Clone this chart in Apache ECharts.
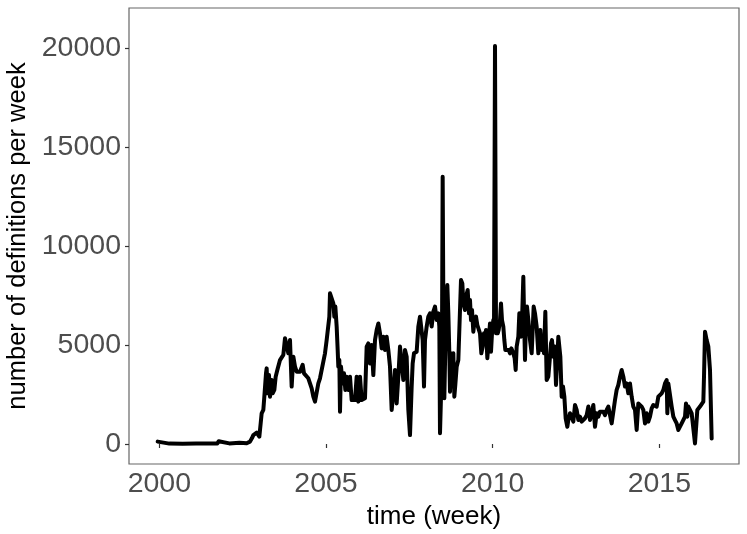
<!DOCTYPE html>
<html>
<head>
<meta charset="utf-8">
<script src="https://cdn.jsdelivr.net/npm/echarts@6/dist/echarts.min.js"></script>
<style>
html,body{margin:0;padding:0;background:#fff;}
#chart{width:747px;height:534px;}
</style>
</head>
<body>
<div id="chart"></div>
<script>
// time in decimal years (weekly series)
const years = [
1999.95,2000.00,2000.30,2000.70,2001.10,2001.50,2001.74,2001.78,2001.82,2002.10,
2002.40,2002.46,2002.52,2002.62,2002.72,2002.78,2002.82,2002.92,2003.00,2003.04,
2003.07,2003.12,2003.15,2003.20,2003.22,2003.25,2003.29,2003.32,2003.37,2003.40,
2003.45,2003.49,2003.54,2003.62,2003.72,2003.77,2003.82,2003.87,2003.92,2003.97,
2004.02,2004.07,2004.12,2004.17,2004.22,2004.30,2004.34,2004.40,2004.47,2004.52,
2004.57,2004.62,2004.67,2004.72,2004.77,2004.82,2004.87,2004.92,2004.97,2005.02,
2005.07,2005.10,2005.12,2005.17,2005.22,2005.25,2005.28,2005.32,2005.35,2005.37,
2005.40,2005.42,2005.45,2005.50,2005.54,2005.58,2005.62,2005.67,2005.72,2005.77,
2005.82,2005.87,2005.92,2005.97,2006.02,2006.07,2006.12,2006.17,2006.22,2006.27,
2006.32,2006.37,2006.42,2006.47,2006.52,2006.57,2006.62,2006.67,2006.72,2006.77,
2006.82,2006.87,2006.92,2006.97,2007.02,2007.07,2007.12,2007.17,2007.22,2007.27,
2007.32,2007.37,2007.42,2007.47,2007.52,2007.57,2007.60,2007.64,2007.72,2007.77,
2007.82,2007.87,2007.90,2007.94,2007.97,2008.02,2008.07,2008.12,2008.17,2008.22,
2008.27,2008.32,2008.37,2008.40,2008.42,2008.45,2008.48,2008.50,2008.53,2008.55,
2008.59,2008.64,2008.67,2008.70,2008.72,2008.75,2008.78,2008.82,2008.85,2008.88,
2008.92,2008.97,2009.02,2009.05,2009.09,2009.12,2009.17,2009.20,2009.25,2009.29,
2009.32,2009.35,2009.38,2009.42,2009.46,2009.50,2009.54,2009.58,2009.62,2009.66,
2009.70,2009.74,2009.77,2009.80,2009.84,2009.88,2009.92,2009.95,2009.98,2010.02,
2010.04,2010.07,2010.10,2010.12,2010.15,2010.18,2010.22,2010.25,2010.28,2010.32,
2010.35,2010.38,2010.44,2010.48,2010.52,2010.56,2010.62,2010.66,2010.69,2010.72,
2010.77,2010.80,2010.85,2010.89,2010.92,2010.95,2010.97,2011.00,2011.03,2011.07,
2011.12,2011.17,2011.20,2011.23,2011.27,2011.32,2011.37,2011.40,2011.43,2011.47,
2011.51,2011.54,2011.58,2011.62,2011.67,2011.72,2011.75,2011.78,2011.82,2011.86,
2011.90,2011.94,2011.97,2012.00,2012.03,2012.07,2012.11,2012.15,2012.19,2012.24,
2012.27,2012.32,2012.37,2012.42,2012.47,2012.52,2012.57,2012.62,2012.67,2012.72,
2012.77,2012.82,2012.87,2012.92,2012.97,2013.02,2013.07,2013.12,2013.17,2013.22,
2013.27,2013.32,2013.37,2013.42,2013.47,2013.52,2013.57,2013.62,2013.67,2013.72,
2013.77,2013.82,2013.87,2013.92,2013.97,2014.02,2014.07,2014.12,2014.17,2014.22,
2014.27,2014.32,2014.37,2014.42,2014.47,2014.52,2014.57,2014.62,2014.67,2014.72,
2014.77,2014.82,2014.87,2014.92,2014.97,2015.02,2015.07,2015.12,2015.17,2015.22,
2015.24,2015.27,2015.32,2015.37,2015.42,2015.47,2015.52,2015.57,2015.62,2015.67,
2015.72,2015.77,2015.80,2015.84,2015.87,2015.92,2015.97,2016.02,2016.07,2016.10,
2016.14,2016.17,2016.22,2016.27,2016.32,2016.34,2016.37,2016.42,2016.47,2016.52,
2016.57
];
// number of definitions per week
const counts = [
120,40,20,15,20,25,30,140,40,30,
60,130,50,40,120,300,450,570,370,1040,
1550,1720,2390,3570,3820,2560,3480,2390,3230,2560,
2730,3400,3740,4240,4500,5340,5250,4580,5250,2900,
4410,3910,3650,3570,3650,4000,3570,3480,3320,3060,
2810,2390,2140,2140,3060,3320,3400,4160,4580,5250,
5340,6430,7610,7530,7100,6430,6940,5930,4750,3910,
4240,1630,3910,3060,3570,2730,3400,2730,3400,2220,
2220,2220,3400,2140,3400,2220,2140,2310,4920,5080,
4070,5000,3480,5250,5760,6090,5590,4830,5420,4750,
5420,4750,3910,1720,2560,3740,2050,3400,4920,5000,
3230,4750,4410,1720,450,2900,4070,4580,4660,5930,
6430,6510,5250,2900,5250,5930,6430,6600,5930,6680,
6940,6260,6600,5930,540,2390,5420,13500,4070,2310,
5760,8030,6600,4580,2640,4580,2900,4580,2390,3000,
3900,4240,6770,8280,8110,7100,6770,7440,7780,6600,
7270,6260,6770,5670,6260,6430,6010,6010,5590,4580,
4920,5590,5250,5760,4330,5250,6090,4660,5590,6260,
5930,20100,5590,6180,5590,5760,6260,7100,6260,5930,
5250,4750,4660,4750,4580,4830,4580,4330,3740,4920,
5420,6600,5420,6770,8450,5760,4240,6260,6940,6260,
5250,4580,4580,6940,6600,5930,4580,5590,5760,4750,
5080,4580,6680,3230,3400,4410,5080,5250,4410,4920,
2980,3060,5420,4920,4410,2390,2900,2400,1300,870,
1210,1550,1550,1130,1970,1720,1210,1380,1130,1210,
1300,1460,1890,1210,1550,1970,870,1550,1380,1630,
1550,1630,1460,1720,1890,1890,1040,960,2220,2730,
2980,3400,3740,3400,2900,3060,2560,3060,2390,1890,
1720,710,2050,1970,1890,1720,1040,1550,1130,1380,
1800,1970,2050,1890,2390,2310,2560,2730,3060,3230,
1550,3060,3150,1890,1380,1210,1040,710,620,1040,
1130,1380,2050,1380,1890,1720,1550,1550,30,0,
1720,1630,1890,1970,2140,3400,5670,5250,4920,3740,
280
];
const xTicks = [2000, 2005, 2010, 2015];
const yTicks = [0, 5000, 10000, 15000, 20000];

const seriesData = years.map((y, i) => [y, counts[i]]);

const chart = echarts.init(document.getElementById('chart'), null, {renderer: 'canvas'});
const font = '"Liberation Sans", Arial, Helvetica, sans-serif';
chart.setOption({
  animation: false,
  backgroundColor: '#ffffff',
  grid: {
    left: 129, right: 8, top: 8, bottom: 70,
    outerBoundsMode: 'none',
    containLabel: false,
    show: true, borderColor: '#666666', borderWidth: 1.2, backgroundColor: '#ffffff'
  },
  xAxis: {
    type: 'value',
    min: 1999.09, max: 2017.39,
    splitLine: {show: false},
    axisLine: {show: false},
    axisTick: {show: true, customValues: xTicks, length: 4, lineStyle: {color: '#333333', width: 1.2}},
    axisLabel: {customValues: xTicks, color: '#4d4d4d', fontSize: 28.5, fontFamily: font, margin: 6,
      formatter: v => String(v)},
    name: 'time (week)',
    nameLocation: 'middle',
    nameGap: 38,
    nameTextStyle: {color: '#000000', fontSize: 26, fontFamily: font, verticalAlign: 'top'}
  },
  yAxis: {
    type: 'value',
    min: -1010, max: 22020,
    splitLine: {show: false},
    axisLine: {show: false},
    axisTick: {show: true, customValues: yTicks, length: 4, lineStyle: {color: '#333333', width: 1.2}},
    axisLabel: {customValues: yTicks, color: '#4d4d4d', fontSize: 28.5, fontFamily: font, margin: 8,
      formatter: v => String(v)},
    name: 'number of definitions per week',
    nameLocation: 'middle',
    nameRotate: 90,
    nameGap: 96,
    nameTextStyle: {color: '#000000', fontSize: 25.5, fontFamily: font}
  },
  series: [{
    type: 'line',
    data: seriesData,
    showSymbol: false,
    symbol: 'none',
    lineStyle: {color: '#000000', width: 4, join: 'round', cap: 'round'},
    clip: true
  }]
});
</script>
</body>
</html>
